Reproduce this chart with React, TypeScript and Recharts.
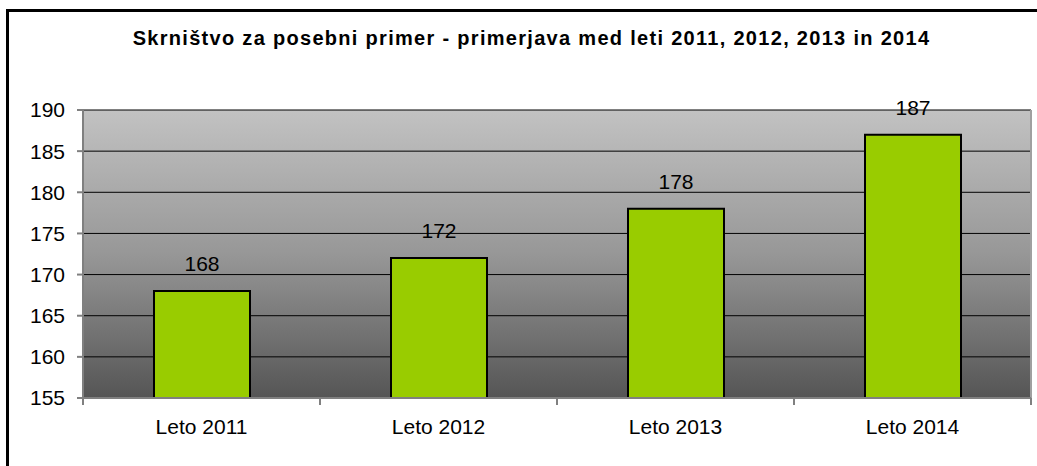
import React from "react";
import {
  BarChart,
  Bar,
  XAxis,
  YAxis,
  CartesianGrid,
  LabelList,
  ReferenceLine,
} from "recharts";

const categories = ["Leto 2011", "Leto 2012", "Leto 2013", "Leto 2014"];
const values = [168, 172, 178, 187];
const yTicks = [155, 160, 165, 170, 175, 180, 185, 190];
const title =
  "Skrništvo za posebni primer - primerjava med leti 2011, 2012, 2013 in 2014";

const data = categories.map((c, i) => ({ name: c, value: values[i] }));

const FONT = "'Liberation Sans', Arial, sans-serif";

const CategoryTick = (props: any) => {
  const { x, y, payload, index, visibleTicksCount, width } = props;
  const band = Number(width) / visibleTicksCount;
  const left = x - band / 2;
  const right = x + band / 2;
  return (
    <g>
      <line x1={left} x2={left} y1={y} y2={y + 7} stroke="#808080" strokeWidth={2} />
      {index === visibleTicksCount - 1 && (
        <line x1={right} x2={right} y1={y} y2={y + 7} stroke="#808080" strokeWidth={2} />
      )}
      <text
        x={x}
        y={y + 21}
        dy="0.71em"
        textAnchor="middle"
        fontSize={21}
        fontFamily={FONT}
        fill="#000"
      >
        {payload.value}
      </text>
    </g>
  );
};

export default function App() {
  return (
    <div
      style={{
        position: "absolute",
        left: 0,
        top: 0,
        width: 1037,
        height: 466,
        background: "#fff",
        fontFamily: FONT,
      }}
    >
      <div
        style={{
          position: "absolute",
          left: 6,
          top: 9,
          right: 0,
          bottom: 0,
          borderLeft: "3px solid #000",
          borderTop: "3px solid #000",
        }}
      />
      <div
        style={{
          position: "absolute",
          left: 0,
          width: 1063,
          top: 27,
          textAlign: "center",
          fontWeight: "bold",
          fontSize: 20,
          letterSpacing: 1.3,
          color: "#000",
          whiteSpace: "nowrap",
        }}
      >
        {title}
      </div>
      <div style={{ position: "absolute", left: 0, top: 0 }}>
        <BarChart
          width={1037}
          height={466}
          data={data}
          margin={{ top: 110, right: 6, bottom: 0, left: 0 }}
        >
          <defs>
            <linearGradient id="plotBg" x1="0" y1="0" x2="0" y2="1">
              <stop offset="0%" stopColor="#c2c2c2" />
              <stop offset="50%" stopColor="#979797" />
              <stop offset="100%" stopColor="#555555" />
            </linearGradient>
          </defs>
          <CartesianGrid
            vertical={false}
            stroke="#000"
            strokeWidth={1}
            fill="url(#plotBg)"
            fillOpacity={1}
          />
          <XAxis
            dataKey="name"
            height={68}
            axisLine={{ stroke: "#808080", strokeWidth: 2 }}
            tickLine={false}
            tickSize={0}
            tickMargin={0}
            interval={0}
            tick={<CategoryTick />}
          />
          <YAxis
            width={83}
            domain={[155, 190]}
            ticks={yTicks}
            interval={0}
            allowDataOverflow
            axisLine={{ stroke: "#808080", strokeWidth: 2 }}
            tickLine={{ stroke: "#808080", strokeWidth: 2 }}
            tickSize={6}
            tickMargin={12}
            tick={{ fill: "#000", fontSize: 21, fontFamily: FONT }}
          />
          <ReferenceLine
            x={categories[categories.length - 1]}
            position="end"
            stroke="#a0a0a0"
            strokeWidth={2}
          />
          <Bar
            dataKey="value"
            fill="#99cc00"
            stroke="#000"
            strokeWidth={2}
            barSize={96}
            isAnimationActive={false}
          >
            <LabelList
              dataKey="value"
              position="top"
              offset={20}
              fill="#000"
              fontSize={21}
              fontFamily={FONT}
            />
          </Bar>
        </BarChart>
      </div>
    </div>
  );
}
